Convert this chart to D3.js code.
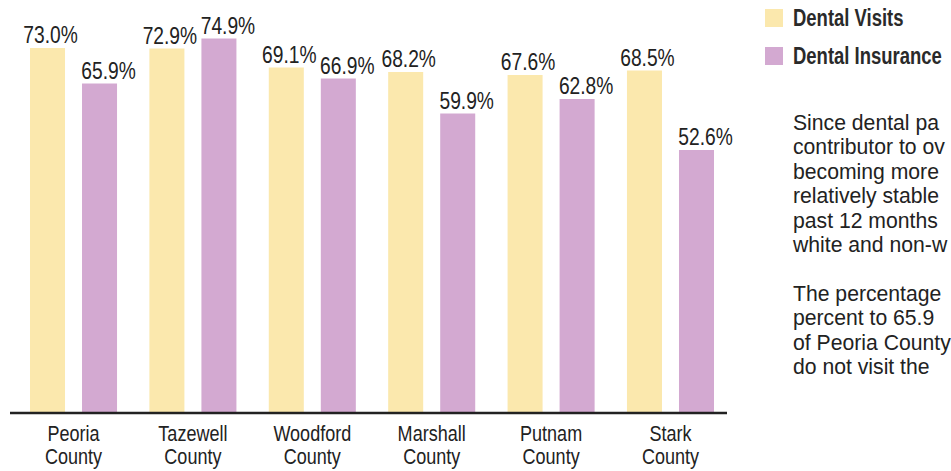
<!DOCTYPE html>
<html>
<head>
<meta charset="utf-8">
<script src="https://cdn.jsdelivr.net/npm/d3@7"></script>
<style>
  html, body { margin: 0; padding: 0; background: #ffffff; }
  svg { display: block; }
  text { font-family: "Liberation Sans", Arial, sans-serif; fill: #222; }
</style>
</head>
<body>
<svg id="chart" width="951" height="471"></svg>
<script>
const counties = ["Peoria", "Tazewell", "Woodford", "Marshall", "Putnam", "Stark"];
const seriesNames = ["Dental Visits", "Dental Insurance"];
const dentalVisits = [73.0, 72.9, 69.1, 68.2, 67.6, 68.5];
const dentalInsurance = [65.9, 74.9, 66.9, 59.9, 62.8, 52.6];
const colors = ["#fbe8ad", "#d3a9d1"];
const bodyText = [
  "Since dental pa",
  "contributor to ov",
  "becoming more",
  "relatively stable",
  "past 12 months",
  "white and non-w",
  "",
  "The percentage",
  "percent to 65.9",
  "of Peoria County",
  "do not visit the"
];

const svg = d3.select("#chart");
const baseY = 413;

// condensed-text helper: place text at (x,y) and squeeze horizontally
function condense(sel, fx, fy, k) {
  sel.attr("x", 0).attr("y", 0)
     .attr("transform", (d, i) => `translate(${fx(d, i)},${fy(d, i)}) scale(${k},1)`);
}

const x0 = d3.scaleBand().domain(counties).range([30, 714]).paddingInner(0.271).paddingOuter(0);
const x1 = d3.scaleBand().domain(seriesNames).range([0, x0.bandwidth()]).paddingInner(0.327).paddingOuter(0);
const y = d3.scaleLinear().domain([0, 80]).range([baseY, baseY - 400]);

const rows = counties.map((c, i) => ({
  county: c,
  vals: [
    { s: seriesNames[0], v: dentalVisits[i], color: colors[0], off: 3 },
    { s: seriesNames[1], v: dentalInsurance[i], color: colors[1], off: 9 }
  ]
}));

const groups = svg.append("g").selectAll("g.grp").data(rows).join("g")
  .attr("class", "grp")
  .attr("transform", d => `translate(${x0(d.county)},0)`);

groups.selectAll("rect").data(d => d.vals).join("rect")
  .attr("x", d => x1(d.s))
  .attr("y", d => y(d.v))
  .attr("width", x1.bandwidth())
  .attr("height", d => y(0) - y(d.v))
  .attr("fill", d => d.color);

groups.selectAll("text.val").data(d => d.vals).join("text")
  .attr("class", "val")
  .attr("text-anchor", "middle")
  .style("font-size", "24px")
  .text(d => d.v.toFixed(1) + "%")
  .call(condense, d => x1(d.s) + x1.bandwidth() / 2 + d.off, d => y(d.v) - 5, 0.8);

// x axis baseline
const axis = d3.axisBottom(x0).tickSize(0).tickFormat("");
const axG = svg.append("g").attr("transform", `translate(0,${baseY})`).call(axis);
axG.select(".domain").attr("d", "M10,0H727").attr("stroke", "#222").attr("stroke-width", 2.5);

// category labels (two lines)
const catG = svg.append("g");
catG.selectAll("text.cat1").data(counties).join("text")
  .attr("class", "cat1").attr("text-anchor", "middle").style("font-size", "22px")
  .text(d => d)
  .call(condense, d => x0(d) + x0.bandwidth() / 2, () => 441, 0.82);
catG.selectAll("text.cat2").data(counties).join("text")
  .attr("class", "cat2").attr("text-anchor", "middle").style("font-size", "22px")
  .text("County")
  .call(condense, d => x0(d) + x0.bandwidth() / 2, () => 464, 0.82);

// legend
const leg = svg.append("g").selectAll("g").data(seriesNames).join("g")
  .attr("transform", (d, i) => `translate(765,${9 + i * 38})`);
leg.append("rect").attr("width", 18).attr("height", 18).attr("fill", (d, i) => colors[i]);
leg.append("text").style("font-size", "24px").style("font-weight", "bold")
  .style("fill", "#2a2a2a").text(d => d)
  .call(condense, () => 28, () => 17, 0.77);

// body text
svg.append("g").selectAll("text.body").data(bodyText).join("text")
  .attr("class", "body")
  .style("font-size", "21.4px")
  .text(d => d)
  .call(condense, () => 793, (d, i) => 130 + i * 24.4, 0.99);
</script>
</body>
</html>
